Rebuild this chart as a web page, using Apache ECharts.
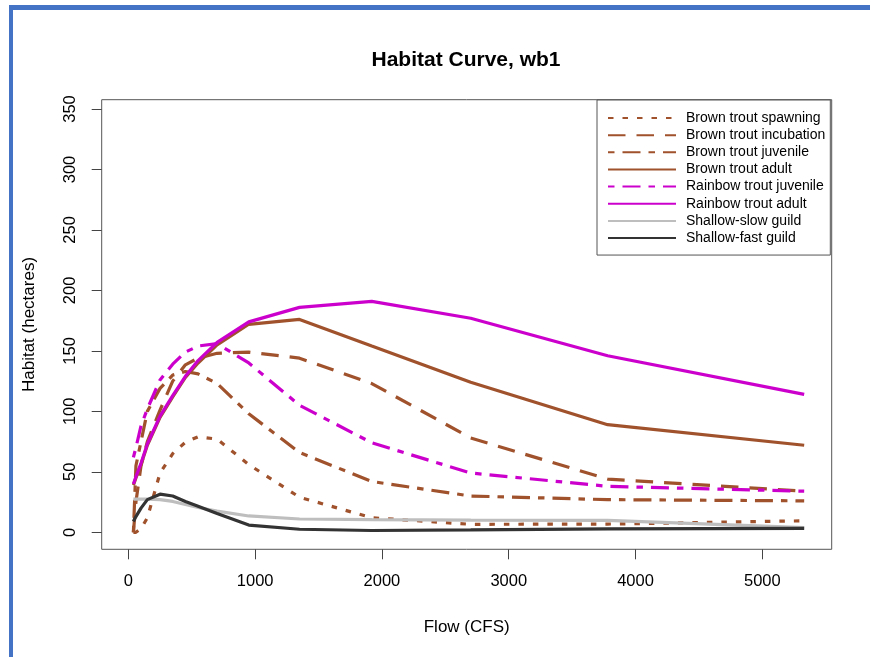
<!DOCTYPE html>
<html>
<head>
<meta charset="utf-8">
<script src="https://cdn.jsdelivr.net/npm/echarts@6.0.0/dist/echarts.min.js"></script>
<style>
  html, body { margin: 0; padding: 0; background: #fff; }
  #main { width: 870px; height: 657px; }
  #frame {
    position: absolute; left: 9px; top: 5px; right: 0; bottom: 0;
    border-left: 4px solid #4472C4; border-top: 5px solid #4472C4;
    pointer-events: none;
  }
</style>
</head>
<body>
<div id="main"></div>
<div id="frame"></div>
<script>
// flows (CFS) where habitat was computed
const flows = [40, 60, 100, 150, 250, 350, 450, 550, 700, 950, 1350, 1920, 2700, 3780, 5330]

// habitat (hectares) per species / life stage
const brownSpawning   = [0, 0, 3, 12, 49, 65, 74.5, 79, 77, 56, 29, 12, 6.6, 6.8, 9.5]
const brownIncubation = [0, 25, 55, 75, 101, 125, 138.5, 144, 148, 149, 144, 123, 78, 44, 34]
const brownJuvenile   = [0, 55, 75, 100, 119, 130, 133, 131, 123, 98, 66, 42, 30, 27, 26]
const brownAdult      = [39, 45, 56, 72, 95, 112, 128, 140, 155, 172, 176, 154, 124, 89, 72]
const rainbowJuvenile = [62, 70, 88, 102, 126, 139, 149, 154, 156, 140, 105, 74, 49, 38, 34]
const rainbowAdult    = [40, 46, 57, 73, 96, 113, 129, 142, 157, 174, 186, 191, 177, 146, 114]
const shallowSlow     = [27.5, 27.5, 27.5, 27.5, 27, 25.5, 23, 20.5, 17.5, 13.5, 11, 10.5, 10, 9.8, 3.8]
const shallowFast     = [9, 13, 20, 27, 31.5, 30, 25.5, 21.5, 15.5, 6, 2.5, 1.5, 2, 2.8, 3.3]

const xTicks = [0, 1000, 2000, 3000, 4000, 5000]
const yTicks = [0, 50, 100, 150, 200, 250, 300, 350]

const brown = '#A0522D'
const magenta = '#CC00CC'
const dotted = [5.5, 9]
const dashed = [17.5, 11]
const dotdash = [6.5, 8, 18, 8]

const makeLine = (name, values, color, type) => ({
  name: name,
  type: 'line',
  data: flows.map((f, i) => [f, values[i]]),
  symbol: 'none',
  lineStyle: { color: color, width: 3.2, type: type, cap: 'butt' },
  itemStyle: { color: color },
  emphasis: { disabled: true }
})

const chart = echarts.init(document.getElementById('main'))
const font = 'Liberation Sans, Arial, sans-serif'

const option = {
  animation: false,
  backgroundColor: '#fff',
  title: {
    text: 'Habitat Curve, wb1',
    left: 461, top: 45, textAlign: 'center',
    textStyle: { fontFamily: font, fontSize: 21, fontWeight: 'bold', color: '#000' }
  },
  grid: {
    left: 101.7, right: 38.3, top: 99.7, bottom: 107.7,
    show: true, borderColor: '#555', borderWidth: 1
  },
  legend: {
    orient: 'vertical',
    left: 597, top: 100,
    padding: [9.5, 5, 8.5, 10],
    itemWidth: 68, itemHeight: 17, itemGap: 0.15,
    itemStyle: { opacity: 0 },
    borderColor: '#555', borderWidth: 1, borderRadius: 0,
    backgroundColor: '#fff',
    textStyle: { fontFamily: font, fontSize: 14, color: '#000', lineHeight: 17, padding: [0, 0, 0, 5] }
  },
  xAxis: {
    type: 'value', min: -210, max: 5547,
    name: 'Flow (CFS)', nameLocation: 'middle', nameGap: 70,
    nameTextStyle: { fontFamily: font, fontSize: 17, color: '#000' },
    axisLine: { show: false, onZero: false },
    splitLine: { show: false },
    axisTick: { show: true, length: 10, customValues: xTicks, lineStyle: { color: '#444' } },
    axisLabel: {
      customValues: xTicks, margin: 24, fontFamily: font, fontSize: 16.5, color: '#000',
      formatter: v => String(v)
    }
  },
  yAxis: {
    type: 'value', min: -14.06, max: 357.7,
    name: 'Habitat (hectares)', nameLocation: 'middle', nameGap: 64,
    nameTextStyle: { fontFamily: font, fontSize: 17, color: '#000' },
    axisLine: { show: false, onZero: false },
    splitLine: { show: false },
    axisTick: { show: true, length: 10, customValues: yTicks, lineStyle: { color: '#444' } },
    axisLabel: {
      customValues: yTicks, rotate: 90, margin: 23, fontFamily: font, fontSize: 16.5, color: '#000',
      formatter: v => String(v)
    }
  },
  series: [
    makeLine('Brown trout spawning', brownSpawning, brown, dotted),
    makeLine('Brown trout incubation', brownIncubation, brown, dashed),
    makeLine('Brown trout juvenile', brownJuvenile, brown, dotdash),
    makeLine('Brown trout adult', brownAdult, brown, 'solid'),
    makeLine('Rainbow trout juvenile', rainbowJuvenile, magenta, dotdash),
    makeLine('Rainbow trout adult', rainbowAdult, magenta, 'solid'),
    makeLine('Shallow-slow guild', shallowSlow, '#BEBEBE', 'solid'),
    makeLine('Shallow-fast guild', shallowFast, '#333333', 'solid')
  ]
}
option && chart.setOption(option)
</script>
</body>
</html>
